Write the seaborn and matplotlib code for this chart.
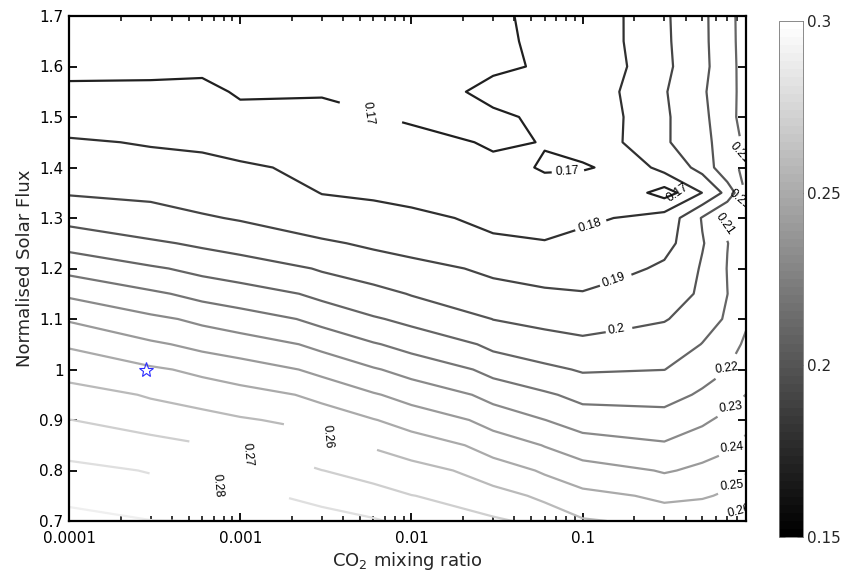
import numpy as np
import matplotlib
matplotlib.use("Agg")
import matplotlib.pyplot as plt
import seaborn as sns
from matplotlib.colors import Normalize, ListedColormap
from matplotlib.cm import ScalarMappable
from matplotlib.ticker import FixedLocator, FuncFormatter, LogLocator, NullFormatter

# Grid of the climate-model runs
co2_ratio = [1e-4, 3e-4, 6e-4, 1e-3, 3e-3, 6e-3, 1e-2, 3e-2, 6e-2, 0.1, 0.3, 0.5, 0.7, 0.9]
solar_flux = [0.70, 0.75, 0.80, 0.85, 0.90, 0.95, 1.00, 1.05, 1.10, 1.15, 1.20,
              1.25, 1.30, 1.35, 1.40, 1.45, 1.50, 1.55, 1.60, 1.65, 1.70]

# Planetary albedo for each CO2 mixing ratio, listed by increasing solar flux
albedo_co2_1e4 = [0.2930, 0.2876, 0.2823, 0.2763, 0.2701, 0.2634, 0.2564, 0.2487, 0.2389, 0.2282, 0.2169,
                  0.2063, 0.1969, 0.1892, 0.1850, 0.1808, 0.1763, 0.1719, 0.1674, 0.1650, 0.1630]
albedo_co2_3e4 = [0.2902, 0.2848, 0.2793, 0.2728, 0.2660, 0.2589, 0.2513, 0.2414, 0.2319, 0.2215, 0.2111,
                  0.2012, 0.1937, 0.1879, 0.1835, 0.1792, 0.1754, 0.1717, 0.1680, 0.1655, 0.1635]
albedo_co2_6e4 = [0.2898, 0.2833, 0.2768, 0.2702, 0.2631, 0.2558, 0.2475, 0.2369, 0.2276, 0.2166, 0.2071,
                  0.1983, 0.1908, 0.1863, 0.1822, 0.1785, 0.1751, 0.1718, 0.1685, 0.1660, 0.1640]
albedo_co2_1e3 = [0.2882, 0.2814, 0.2747, 0.2679, 0.2609, 0.2535, 0.2443, 0.2345, 0.2243, 0.2141, 0.2046,
                  0.1961, 0.1892, 0.1851, 0.1811, 0.1767, 0.1722, 0.1690, 0.1665, 0.1652, 0.1643]
albedo_co2_3e3 = [0.2838, 0.2770, 0.2701, 0.2630, 0.2555, 0.2471, 0.2371, 0.2270, 0.2167, 0.2073, 0.1989,
                  0.1911, 0.1851, 0.1797, 0.1771, 0.1746, 0.1720, 0.1694, 0.1670, 0.1655, 0.1645]
albedo_co2_6e3 = [0.2809, 0.2735, 0.2662, 0.2589, 0.2504, 0.2408, 0.2308, 0.2207, 0.2109, 0.2028, 0.1951,
                  0.1883, 0.1830, 0.1787, 0.1759, 0.1730, 0.1701, 0.1685, 0.1672, 0.1662, 0.1655]
albedo_co2_1e2 = [0.2772, 0.2702, 0.2632, 0.2551, 0.2457, 0.2361, 0.2262, 0.2164, 0.2073, 0.1994, 0.1925,
                  0.1867, 0.1815, 0.1779, 0.1750, 0.1720, 0.1691, 0.1680, 0.1675, 0.1672, 0.1670]
albedo_co2_3e2 = [0.2714, 0.2634, 0.2547, 0.2454, 0.2360, 0.2264, 0.2166, 0.2074, 0.1998, 0.1937, 0.1877,
                  0.1815, 0.1777, 0.1747, 0.1717, 0.1690, 0.1690, 0.1717, 0.1690, 0.1685, 0.1685]
albedo_co2_6e2 = [0.2667, 0.2576, 0.2485, 0.2395, 0.2301, 0.2213, 0.2119, 0.2040, 0.1972, 0.1913, 0.1859,
                  0.1805, 0.1764, 0.1723, 0.1694, 0.1703, 0.1714, 0.1715, 0.1708, 0.1721, 0.1730]
albedo_co2_1e1 = [0.2609, 0.2525, 0.2437, 0.2345, 0.2253, 0.2168, 0.2090, 0.2020, 0.1960, 0.1904, 0.1864,
                  0.1826, 0.1785, 0.1790, 0.1687, 0.1751, 0.1749, 0.1756, 0.1743, 0.1750, 0.1749]
albedo_co2_3e1 = [0.2562, 0.2476, 0.2391, 0.2311, 0.2236, 0.2165, 0.2099, 0.2046, 0.1994, 0.1955, 0.1916,
                  0.1869, 0.1843, 0.1660, 0.1837, 0.1889, 0.1888, 0.1894, 0.1882, 0.1886, 0.1888]
albedo_co2_5e1 = [0.2568, 0.2490, 0.2424, 0.2346, 0.2285, 0.2217, 0.2150, 0.2103, 0.2054, 0.2017, 0.2011,
                  0.1993, 0.2008, 0.1802, 0.1935, 0.1974, 0.1980, 0.1989, 0.1978, 0.1981, 0.1982]
albedo_co2_7e1 = [0.2598, 0.2515, 0.2456, 0.2381, 0.2327, 0.2259, 0.2202, 0.2160, 0.2114, 0.2099, 0.2103,
                  0.2098, 0.2118, 0.1935, 0.2087, 0.2050, 0.2064, 0.2065, 0.2063, 0.2066, 0.2067]
albedo_co2_9e1 = [0.2649, 0.2567, 0.2489, 0.2425, 0.2365, 0.2301, 0.2264, 0.2217, 0.2185, 0.2170, 0.2160,
                  0.2150, 0.2145, 0.2114, 0.2110, 0.2122, 0.2145, 0.2140, 0.2144, 0.2147, 0.2149]

contour_levels = [0.17, 0.18, 0.19, 0.20, 0.21, 0.22, 0.23, 0.24, 0.25, 0.26, 0.27, 0.28, 0.29]
colorbar_ticks = [0.15, 0.20, 0.25, 0.30]
colorbar_ticklabels = ["0.15", "0.2", "0.25", "0.3"]
x_ticks = [1e-4, 1e-3, 1e-2, 1e-1]
x_ticklabels = ["0.0001", "0.001", "0.01", "0.1"]
y_ticks = [0.7, 0.8, 0.9, 1.0, 1.1, 1.2, 1.3, 1.4, 1.5, 1.6, 1.7]

# Present-day Earth (280 ppm CO2, S/S0 = 1)
earth_co2 = [2.8e-4]
earth_flux = [1.0]

sns.set_theme(style="ticks")
plt.rcParams["font.family"] = ["DejaVu Sans"]
plt.rcParams["axes.linewidth"] = 1.6

fig = plt.figure(figsize=(8.45, 5.74), dpi=100)
fig.patch.set_facecolor("white")
ax = fig.add_axes([69 / 845, 1 - 521 / 574, (746 - 69) / 845, (521 - 16) / 574])
cax = fig.add_axes([779 / 845, 1 - 537 / 574, 24 / 845, (537 - 21) / 574])

ax.set_xscale("log")
ax.set_xlim(1e-4, 0.9)
ax.set_ylim(0.7, 1.7)

albedo = np.column_stack([albedo_co2_1e4, albedo_co2_3e4, albedo_co2_6e4, albedo_co2_1e3,
                          albedo_co2_3e3, albedo_co2_6e3, albedo_co2_1e2, albedo_co2_3e2,
                          albedo_co2_6e2, albedo_co2_1e1, albedo_co2_3e1, albedo_co2_5e1,
                          albedo_co2_7e1, albedo_co2_9e1])
X, Y = np.meshgrid(co2_ratio, solar_flux)

gray64 = ListedColormap(plt.get_cmap("gray")(np.linspace(0, 1, 64)))
norm = Normalize(vmin=0.15, vmax=0.30)
# one contour set per level so each can be labelled on its own
contour_sets = {lev: ax.contour(X, Y, albedo, levels=[lev], cmap=gray64, norm=norm,
                                linewidths=1.6)
                for lev in contour_levels}

ax.plot(earth_co2, earth_flux, linestyle="none", marker="*", markersize=11,
        markerfacecolor="none", markeredgecolor="#2b2bff", markeredgewidth=0.8)

# axes, ticks and labels
ax.xaxis.set_major_locator(FixedLocator(x_ticks))
ax.xaxis.set_major_formatter(FuncFormatter(lambda v, p: dict(zip(x_ticks, x_ticklabels)).get(v, "")))
ax.xaxis.set_minor_locator(LogLocator(base=10, subs=np.arange(2, 10)))
ax.xaxis.set_minor_formatter(NullFormatter())
ax.yaxis.set_major_locator(FixedLocator(y_ticks))
ax.yaxis.set_major_formatter(FuncFormatter(lambda v, p: f"{v:g}"))
ax.tick_params(which="both", direction="in", top=True, right=True, colors="black",
               labelsize=11)
ax.tick_params(axis="x", which="both", pad=7)
ax.tick_params(axis="y", which="both", pad=4)
ax.tick_params(which="major", length=6, width=1.3)
ax.tick_params(which="minor", length=3.5, width=1.1)
for s in ax.spines.values():
    s.set_linewidth(1.6)
    s.set_color("black")
ax.set_xlabel("CO$_2$ mixing ratio", fontsize=13, labelpad=3)
ax.set_ylabel("Normalised Solar Flux", fontsize=13, labelpad=4)

sm = ScalarMappable(norm=norm, cmap=gray64)
cb = fig.colorbar(sm, cax=cax, ticks=colorbar_ticks)
cb.ax.set_yticklabels(colorbar_ticklabels)
cb.outline.set_linewidth(0.6)
cb.outline.set_edgecolor("#777777")
cax.tick_params(direction="in", left=True, right=True, length=4, width=0.7,
                color="#444444", labelsize=11, pad=3)

# contour labels: (level, CO2, flux, inline gap, text angle or None to follow the line)
fmt = lambda v: f"{v:g}"
label_spots = [
    (0.17, 0.082, 1.379, 3, None), (0.18, 0.111, 1.28, 3, None),
    (0.19, 0.156, 1.167, 3, None), (0.20, 0.16, 1.066, 3, None),
    (0.21, 0.64, 1.286, 3, -55), (0.21, 0.80, 1.43, 3, -48), (0.21, 0.84, 1.335, 3, -40),
    (0.22, 0.764, 0.995, 3, 8), (0.23, 0.764, 0.918, 3, 8), (0.24, 0.764, 0.841, 3, 6),
    (0.25, 0.764, 0.766, 3, 6), (0.26, 0.87, 0.71, 3, 15),
    (0.17, 0.0054, 1.492, 20, -82), (0.26, 0.00323, 0.866, 37, -85),
    (0.27, 0.00111, 0.831, 50, -85), (0.28, 0.000743, 0.771, 56, -85),
]
all_labels = []
for lev, x, y, gap, angle in label_spots:
    texts = contour_sets[lev].clabel(levels=[lev], manual=[(x, y)], inline=True,
                                     inline_spacing=gap, fmt=fmt, fontsize=8.8, colors="black")
    if angle is not None:
        texts[-1].set_rotation(angle)
    all_labels.append(texts[-1])
# the small closed 0.17 loop keeps its outline; its label sits beside it
texts = contour_sets[0.17].clabel(levels=[0.17], manual=[(0.37, 1.352)], inline=False,
                                  fmt=fmt, fontsize=8.8, colors="black")
texts[-1].set_rotation(35)
all_labels.append(texts[-1])
for t in all_labels:
    t.set_fontfamily(["Liberation Sans", "DejaVu Sans"])
    t.set_clip_on(True)

fig.savefig("out.png", dpi=100, facecolor="white")
